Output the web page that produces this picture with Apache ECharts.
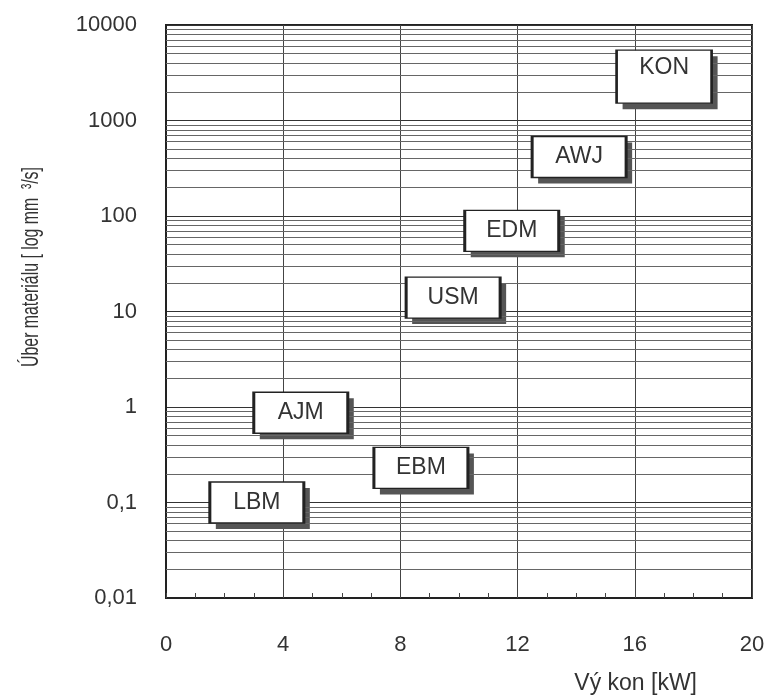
<!DOCTYPE html>
<html>
<head>
<meta charset="utf-8">
<script src="https://cdn.jsdelivr.net/npm/echarts@6/dist/echarts.min.js"></script>
<style>
  html, body { margin: 0; padding: 0; background: #fff; }
  #chart { width: 769px; height: 700px; }
</style>
</head>
<body>
<div id="chart"></div>
<script>
// metody obrabeni: vykon [kW] vs. uber materialu [mm3/s]
var processes = ['LBM', 'AJM', 'EBM', 'USM', 'EDM', 'AWJ', 'KON'];
var power = [3.1, 4.6, 8.7, 9.8, 11.8, 14.1, 17.0];
var removal = [0.1, 0.87, 0.23, 14, 70, 415, 2880];

// hustsi mrizka logaritmickeho papiru
var decades = [0.01, 0.1, 1, 10, 100, 1000];
var minorSteps = [2, 3, 4, 5, 6, 7, 8, 9];

var font = 'Liberation Sans, Arial, sans-serif';

var minorLines = [];
decades.forEach(function (d) {
  minorSteps.forEach(function (m) {
    minorLines.push({ yAxis: +(d * m).toPrecision(6) });
  });
});

function boxSize(name) {
  return name === 'KON' ? [95, 53] : [94, 41];
}

var boxes = processes.map(function (name, i) {
  return {
    name: name,
    value: [power[i], removal[i]],
    symbolSize: boxSize(name),
    label: { offset: name === 'KON' ? [0, -9] : [0, 0] }
  };
});

var shadows = processes.map(function (name, i) {
  return {
    name: name,
    value: [power[i], removal[i]],
    symbolSize: boxSize(name)
  };
});

var myChart = echarts.init(document.getElementById('chart'));

var option = {
  backgroundColor: '#fff',
  animation: false,
  // popisek osy y je v predloze uzsi, proto zuzeny text
  graphic: [
    {
      type: 'text',
      x: 31,
      y: 267,
      rotation: Math.PI / 2,
      scaleX: 0.66,
      style: {
        text: 'Úber materiálu [ log mm  ³/s]',
        fill: '#333',
        font: '24px Liberation Sans, Arial, sans-serif',
        textAlign: 'center',
        textVerticalAlign: 'middle'
      }
    }
  ],
  grid: {
    left: 166,
    right: 17,
    top: 25,
    bottom: 102,
    show: true,
    borderColor: '#222',
    borderWidth: 2
  },
  xAxis: {
    type: 'value',
    min: 0,
    max: 20,
    interval: 4,
    name: 'Vý kon [kW]',
    nameLocation: 'end',
    nameGap: -55,
    nameTextStyle: {
      color: '#333',
      fontFamily: font,
      fontSize: 23,
      align: 'right',
      verticalAlign: 'top',
      padding: [74, 0, 0, 0]
    },
    axisLine: { lineStyle: { color: '#222', width: 2 } },
    axisTick: { show: true, inside: true, length: 5, lineStyle: { color: '#444' } },
    minorTick: { show: true, splitNumber: 4, length: 5, lineStyle: { color: '#444' } },
    axisLabel: {
      color: '#333',
      fontFamily: font,
      fontSize: 22,
      margin: 36
    },
    splitLine: { show: true, lineStyle: { color: '#444', width: 1 } }
  },
  yAxis: {
    type: 'log',
    logBase: 10,
    min: 0.01,
    max: 10000,
    axisLine: { show: true, lineStyle: { color: '#222', width: 2 } },
    axisTick: { show: false },
    axisLabel: {
      color: '#333',
      fontFamily: font,
      fontSize: 22,
      margin: 29,
      formatter: function (v) {
        return String(+v.toPrecision(6)).replace('.', ',');
      }
    },
    splitLine: { show: true, lineStyle: { color: '#333', width: 1 } }
  },
  series: [
    {
      type: 'scatter',
      data: [],
      silent: true,
      z: 1,
      markLine: {
        silent: true,
        symbol: 'none',
        label: { show: false },
        lineStyle: { color: '#666', width: 1, type: 'solid' },
        data: minorLines
      }
    },
    {
      // stin pod stitky
      type: 'scatter',
      z: 4,
      silent: true,
      symbol: 'rect',
      symbolOffset: [6, 6],
      data: shadows,
      itemStyle: { color: '#555', opacity: 1 }
    },
    {
      type: 'scatter',
      z: 5,
      symbol: 'rect',
      data: boxes,
      itemStyle: {
        color: '#fff',
        opacity: 1,
        borderColor: '#222',
        borderWidth: 2
      },
      label: {
        show: true,
        position: 'inside',
        formatter: '{b}',
        color: '#333',
        fontFamily: font,
        fontSize: 23
      }
    }
  ]
};

myChart.setOption(option);
</script>
</body>
</html>
